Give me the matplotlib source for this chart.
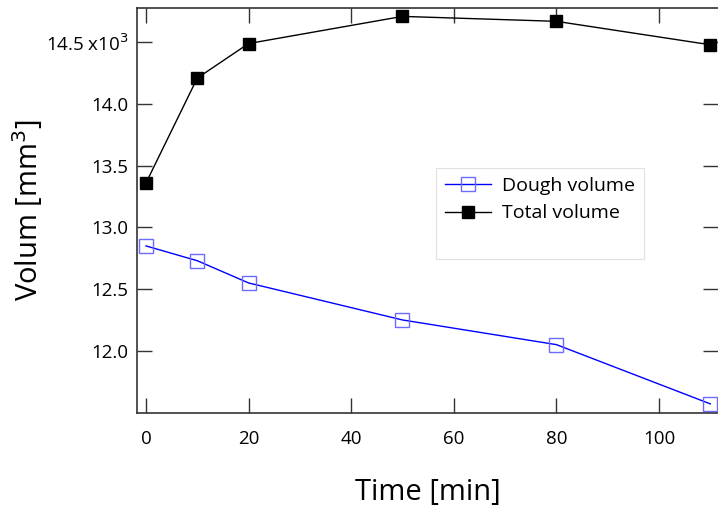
import matplotlib
matplotlib.use("Agg")
import matplotlib.pyplot as plt
from matplotlib.lines import Line2D

plt.rcParams['font.family'] = ['Open Sans', 'DejaVu Sans']

# time [min] and volumes [x10^3 mm^3]
time = [0, 10, 20, 50, 80, 110]
dough = [12.85, 12.73, 12.55, 12.25, 12.05, 11.57]
total = [13.36, 14.21, 14.49, 14.71, 14.67, 14.48]

xticks = [0, 20, 40, 60, 80, 100]
yticks = [12.0, 12.5, 13.0, 13.5, 14.0, 14.5]
ylabels = ['12.0', '12.5', '13.0', '13.5', '14.0', '14.5 x10$^{3}$']

fig = plt.figure(figsize=(7.18, 5.17), dpi=100)
ax = fig.add_axes([137/718, 104/517, 581/718, 405/517])

l1, = ax.plot(time, dough, color='#0000ff', lw=1, marker='s', ms=10,
              mfc='none', mec='#6b6bff', mew=1, label='Dough volume')
l2, = ax.plot(time, total, color='black', lw=1, marker='s', ms=8.5,
              mfc='black', mec='black', label='Total volume')

ax.set_xlim(-1.75, 111.5)
ax.set_ylim(11.496, 14.778)
ax.set_xticks(xticks)
ax.set_xticklabels([str(t) for t in xticks])
ax.set_yticks(yticks)
ax.set_yticklabels(ylabels)

spine_col = '#333333'
for s in ['left', 'bottom', 'top']:
    ax.spines[s].set_color(spine_col)
    ax.spines[s].set_linewidth(1.2)
ax.spines['right'].set_visible(False)

ax.tick_params(axis='both', direction='in', length=11, width=1,
               color=spine_col, labelsize=13.5, top=True, right=True)
ax.tick_params(axis='x', pad=12)
ax.tick_params(axis='y', pad=6)

ax.set_xlabel('Time [min]', fontsize=21, labelpad=22)
ax.set_ylabel('Volum [mm$^{3}$]', fontsize=21)
ax.yaxis.set_label_coords(-0.158, 0.5)

# blank third row keeps the empty space at the bottom of the legend box
blank = Line2D([], [], color='none')
leg = ax.legend([l1, l2, blank], ['Dough volume', 'Total volume', ' '],
                loc='upper left', bbox_to_anchor=(436/718, (517-168)/517),
                bbox_transform=fig.transFigure, fontsize=14, fancybox=False,
                framealpha=1, edgecolor='#e0e0e0', borderpad=0.45,
                handlelength=2.4, handletextpad=0.55, labelspacing=0.5,
                borderaxespad=0)
leg.get_frame().set_linewidth(0.8)

fig.savefig('out.png', dpi=100)
